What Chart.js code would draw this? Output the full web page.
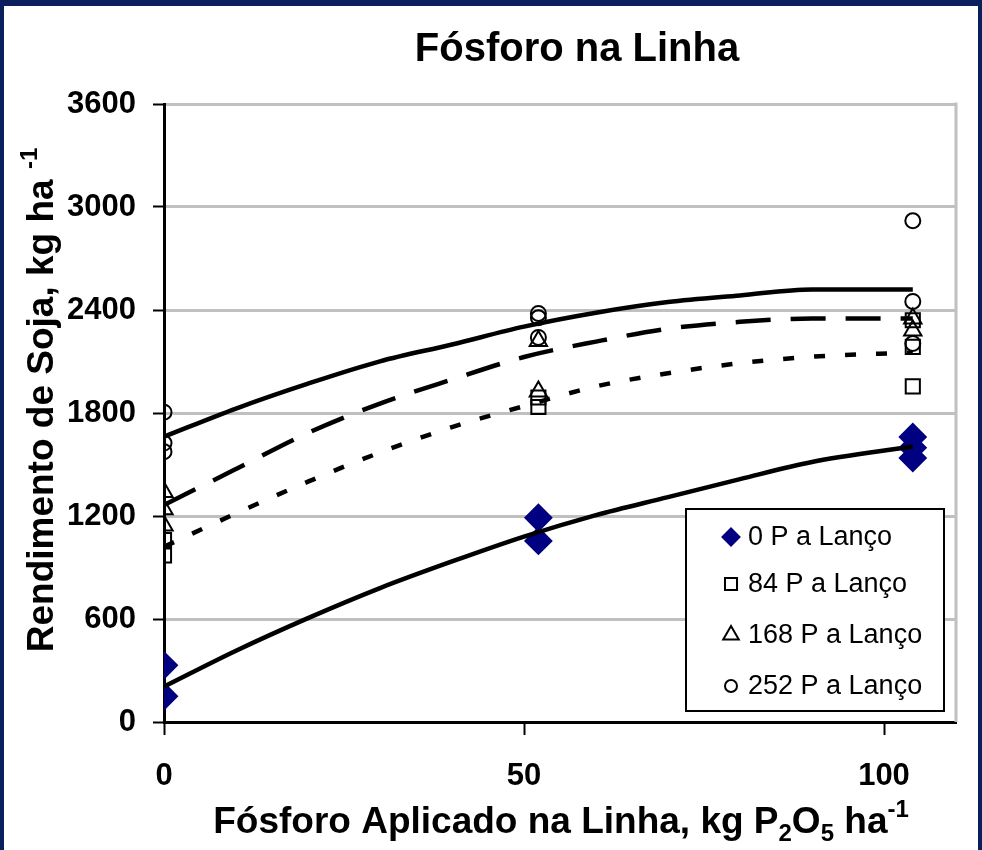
<!DOCTYPE html>
<html>
<head>
<meta charset="utf-8">
<script src="https://cdn.jsdelivr.net/npm/chart.js@4.4.0/dist/chart.umd.min.js"></script>
<style>
    html, body { margin: 0; padding: 0; background: #ffffff; }
    #wrap { position: relative; width: 982px; height: 850px; }
    #frame {
        position: absolute; left: 0; top: 0; width: 982px; height: 850px;
        box-sizing: border-box; pointer-events: none;
        border-style: solid; border-color: #0b1f5e;
        border-width: 6px 4px 0 4px;
    }
</style>
</head>
<body>
<div id="wrap">
    <canvas id="myChart"></canvas>
    <div id="frame"></div>
</div>
<script>
(function () {
    "use strict";

    var chartTitle = 'Fósforo na Linha';
    var seriesNames = ['0 P a Lanço', '84 P a Lanço', '168 P a Lanço', '252 P a Lanço'];
    var yTicks = [0, 600, 1200, 1800, 2400, 3000, 3600];
    var xTicks = [0, 50, 100];

    // observed yields
    var p0X = [0, 0, 52, 52, 104, 104, 104];
    var p0Y = [330, 150, 1190, 1055, 1660, 1598, 1538];
    var p84X = [0, 0, 52, 52, 104, 104, 104];
    var p84Y = [1060, 970, 1890, 1835, 2340, 2185, 1955];
    var p168X = [0, 0, 0, 52, 52, 104, 104];
    var p168Y = [1340, 1240, 1145, 2220, 1925, 2350, 2280];
    var p252X = [0, 0, 0, 52, 52, 52, 104, 104, 104];
    var p252Y = [1805, 1625, 1575, 2380, 2355, 2240, 2920, 2450, 2205];

    // fitted curves
    var fitX = [0, 10, 20, 30, 40, 50, 60, 70, 80, 90, 104];
    var fit0 = [206, 415, 605, 780, 935, 1080, 1205, 1310, 1415, 1515, 1605];
    var fit84 = [1021, 1215, 1400, 1570, 1718, 1840, 1955, 2032, 2090, 2128, 2152];
    var fit168 = [1264, 1474, 1684, 1855, 1995, 2126, 2216, 2291, 2331, 2350, 2350];
    var fit252 = [1662, 1826, 1971, 2101, 2199, 2303, 2384, 2446, 2485, 2520, 2520];

    function pts(xs, ys) {
        return xs.map(function (x, i) { return { x: x, y: ys[i] }; });
    }

    var markerStyles = [
        { pointStyle: 'rectRot', radius: 13, bg: '#000080', border: '#000080', legendRadius: 8.5 },
        { pointStyle: 'rect', radius: 10, bg: 'rgba(0,0,0,0)', border: '#000000', legendRadius: 8.5 },
        { pointStyle: 'triangle', radius: 10, bg: 'rgba(0,0,0,0)', border: '#000000', legendRadius: 9 },
        { pointStyle: 'circle', radius: 7.5, bg: 'rgba(0,0,0,0)', border: '#000000', legendRadius: 6 }
    ];

    function markerSet(name, data, st) {
        return {
            label: name,
            data: data,
            showLine: false,
            order: 1,
            pointStyle: st.pointStyle,
            pointRadius: st.radius,
            pointBackgroundColor: st.bg,
            pointBorderColor: st.border,
            pointBorderWidth: 2
        };
    }

    function fitSet(data, dash) {
        return {
            label: '',
            data: data,
            showLine: true,
            order: 0,
            pointRadius: 0,
            borderColor: '#000000',
            borderWidth: 4.5,
            borderDash: dash,
            borderCapStyle: 'butt',
            cubicInterpolationMode: 'monotone',
            fill: false
        };
    }

    var datasets = [
        markerSet(seriesNames[0], pts(p0X, p0Y), markerStyles[0]),
        markerSet(seriesNames[1], pts(p84X, p84Y), markerStyles[1]),
        markerSet(seriesNames[2], pts(p168X, p168Y), markerStyles[2]),
        markerSet(seriesNames[3], pts(p252X, p252Y), markerStyles[3]),
        fitSet(pts(fitX, fit0), []),
        fitSet(pts(fitX, fit84), [11, 20]),
        fitSet(pts(fitX, fit168), [35, 20]),
        fitSet(pts(fitX, fit252), [])
    ];

    var FONT = "'Liberation Sans', Arial, sans-serif";

    // draws text with sub/superscript pieces, centred on cx
    function richText(ctx, parts, cx, y, size) {
        var small = Math.round(size * 0.65);
        var total = 0;
        parts.forEach(function (p) {
            ctx.font = 'bold ' + (p.m ? small : size) + 'px ' + FONT;
            p.w = ctx.measureText(p.t).width;
            total += p.w;
        });
        var x = cx - total / 2;
        parts.forEach(function (p) {
            ctx.font = 'bold ' + (p.m ? small : size) + 'px ' + FONT;
            var dy = p.m === 'sub' ? size * 0.22 : (p.m === 'sup' ? -size * 0.42 : 0);
            ctx.fillText(p.t, x, y + dy);
            x += p.w;
        });
    }

    var decorPlugin = {
        id: 'decor',
        beforeDatasetsDraw: function (chart) {
            var ctx = chart.ctx, a = chart.chartArea;
            ctx.save();
            ctx.strokeStyle = '#c0c0c0';
            ctx.lineWidth = 3;
            ctx.beginPath();
            ctx.moveTo(a.right, a.top - 1.5);
            ctx.lineTo(a.right, a.bottom);
            ctx.stroke();
            ctx.restore();
        },
        afterDraw: function (chart) {
            var ctx = chart.ctx;
            ctx.save();
            ctx.fillStyle = '#000000';
            ctx.textBaseline = 'alphabetic';
            ctx.textAlign = 'left';

            // title
            ctx.font = 'bold 40px ' + FONT;
            ctx.textAlign = 'center';
            ctx.fillText(chartTitle, 577, 61);
            ctx.textAlign = 'left';

            // x axis title
            richText(ctx, [
                { t: 'Fósforo Aplicado na Linha, kg P' },
                { t: '2', m: 'sub' },
                { t: 'O' },
                { t: '5', m: 'sub' },
                { t: ' ha' },
                { t: '-1', m: 'sup' }
            ], 561, 833, 37);

            // y axis title
            ctx.save();
            ctx.translate(53, 400);
            ctx.rotate(-Math.PI / 2);
            richText(ctx, [
                { t: 'Rendimento de Soja, kg ha ' },
                { t: '-1', m: 'sup' }
            ], 0, 0, 37);
            ctx.restore();

            // legend box inside the plot
            var bx = 686, by = 509, bw = 258, bh = 202;
            ctx.fillStyle = '#ffffff';
            ctx.fillRect(bx, by, bw, bh);
            ctx.strokeStyle = '#000000';
            ctx.lineWidth = 2;
            ctx.strokeRect(bx, by, bw, bh);

            var rowY = [537, 584, 635, 686];
            ctx.font = '27px ' + FONT;
            ctx.textBaseline = 'middle';
            seriesNames.forEach(function (name, i) {
                var st = markerStyles[i];
                ctx.fillStyle = st.bg;
                ctx.strokeStyle = st.border;
                ctx.lineWidth = 2;
                Chart.helpers.drawPoint(ctx, {
                    pointStyle: st.pointStyle,
                    radius: st.legendRadius,
                    borderWidth: 2,
                    rotation: 0
                }, 731, rowY[i]);
                ctx.fillStyle = '#000000';
                ctx.fillText(name, 748, rowY[i] + 1);
            });
            ctx.restore();
        }
    };

    var ctx = document.getElementById('myChart').getContext('2d');
    var myChart = new Chart(ctx, {
        type: 'scatter',
        data: { datasets: datasets },
        options: {
            responsive: true,
            maintainAspectRatio: false,
            animation: false,
            layout: { padding: { top: 104, right: 26, left: 0, bottom: 0 } },
            plugins: {
                legend: { display: false },
                tooltip: { enabled: false },
                title: { display: false }
            },
            scales: {
                x: {
                    type: 'linear',
                    min: 0,
                    max: 110,
                    afterFit: function (s) { s.height = 128; },
                    afterBuildTicks: function (s) {
                        s.ticks = xTicks.map(function (v) { return { value: v }; });
                    },
                    ticks: {
                        color: '#000000',
                        padding: 23,
                        maxRotation: 0,
                        callback: function (v) { return String(v); },
                        font: { family: FONT, size: 31, weight: 'bold' }
                    },
                    grid: {
                        drawOnChartArea: false,
                        drawTicks: true,
                        tickLength: 13,
                        tickColor: '#000000',
                        tickWidth: 2
                    },
                    border: { color: '#000000', width: 3 }
                },
                y: {
                    min: 0,
                    max: 3600,
                    afterFit: function (s) { s.width = 164; },
                    afterBuildTicks: function (s) {
                        s.ticks = yTicks.map(function (v) { return { value: v }; });
                    },
                    ticks: {
                        color: '#000000',
                        padding: 17,
                        callback: function (v) { return String(v); },
                        font: { family: FONT, size: 31, weight: 'bold' }
                    },
                    grid: {
                        color: '#c0c0c0',
                        lineWidth: 3,
                        drawTicks: true,
                        tickLength: 11,
                        tickColor: '#000000',
                        tickWidth: 2
                    },
                    border: { color: '#000000', width: 3 }
                }
            }
        },
        plugins: [decorPlugin]
    });
}());
</script>
</body>
</html>
